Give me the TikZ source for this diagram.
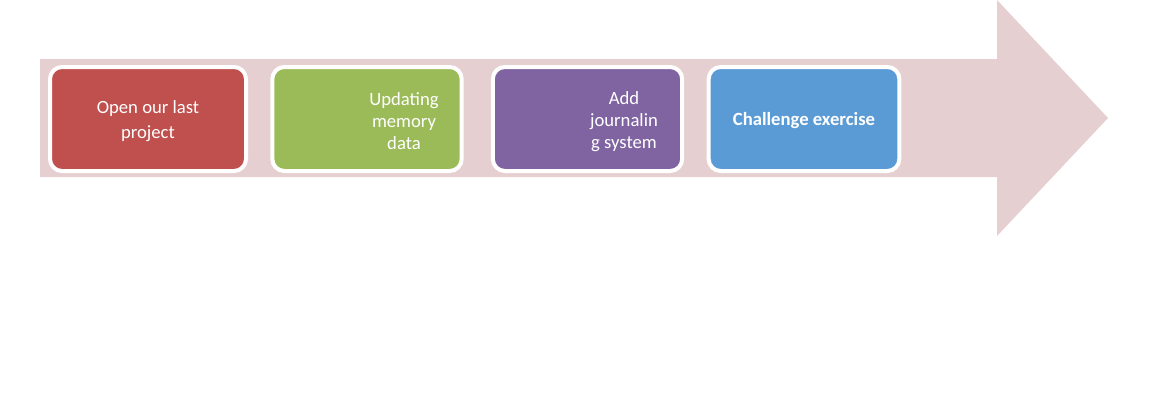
\documentclass[tikz,border=0pt]{standalone}
\usepackage{fontspec}
\setmainfont{Carlito}
\usetikzlibrary{calc}
\definecolor{bandpink}{HTML}{E6CFD0}
\definecolor{stepred}{HTML}{C0504D}
\definecolor{stepgreen}{HTML}{9BBB59}
\definecolor{steppurple}{HTML}{8064A2}
\definecolor{stepblue}{HTML}{5B9BD5}
\tikzset{
  band/.style={fill=bandpink,draw=none},                       % big arrow
  stepbox/.style={draw=white,line width=3pt,rounded corners=9pt,
    minimum width=142pt,minimum height=78pt,inner sep=0pt},
  steptext/.style={text=white,align=center,inner sep=0pt,
    font=\fontsize{14}{16.5}\selectfont},
}
\begin{document}
\begin{tikzpicture}[x=0.75pt,y=-0.75pt]
  \useasboundingbox (0,0) rectangle (1166,400);
  \fill[band] (40,59) -- (997,59) -- (997,0) -- (1108,118) -- (997,236)
    -- (997,177) -- (40,177) -- cycle;
  \node[stepbox,fill=stepred,minimum width=147pt] (open) at (148,119) {};
  \node[stepbox,fill=stepgreen] (update) at (367,119) {};
  \node[stepbox,fill=steppurple] (journal) at (587.5,119) {};
  \node[stepbox,fill=stepblue,minimum width=143pt] (challenge) at (804,119) {};
  \node[steptext,font=\fontsize{14}{19}\selectfont] (opentxt)
    at ($(open)+(0,2)$) {Open our last\\project};
  \node[steptext] (updatetxt) at ($(update)+(37,2)$) {Updating\\memory\\data};
  \node[steptext] (journaltxt) at ($(journal)+(36.5,3)$) {Add\\journalin\\g system};
  \node[steptext,font=\fontsize{14}{16.5}\selectfont\bfseries] (challengetxt)
    at ($(challenge)+(0,2)$) {Challenge exercise};
\end{tikzpicture}
\end{document}
